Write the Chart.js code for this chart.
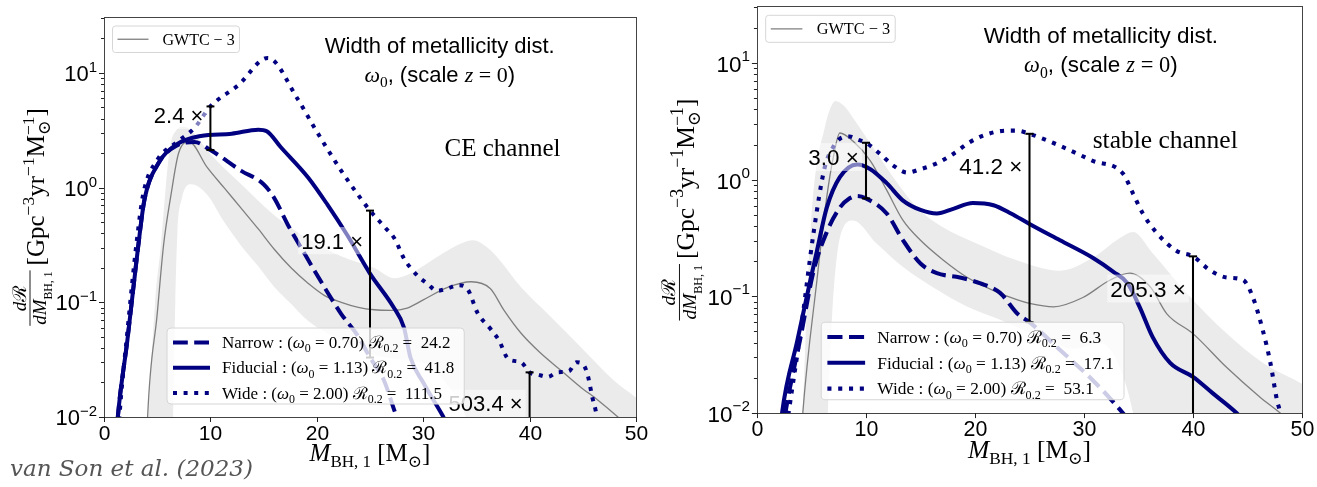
<!DOCTYPE html>
<html>
<head>
<meta charset="utf-8">
<title>Primary BH mass distribution vs. width of the metallicity distribution</title>
<script src="https://cdn.jsdelivr.net/npm/chart.js"></script>
<style>
  html, body { margin: 0; padding: 0; background: #fff; }
  #wrap { position: relative; width: 1317px; height: 487px; overflow: hidden; background: #fff; }
  #ce { position: absolute; left: 0; top: 0; width: 650px; height: 487px; }
  #st { position: absolute; left: 650px; top: 0; width: 667px; height: 487px; }
  #cite { position: absolute; left: 10px; top: 455px; font: italic 23px "DejaVu Serif", serif; color: #555; white-space: nowrap; }
</style>
</head>
<body>
<div id="wrap">
  <canvas id="ce" width="650" height="487"></canvas>
  <canvas id="st" width="667" height="487"></canvas>
  <div id="cite">van Son et al. (2023)</div>
</div>
<script>
// ---------------- axis ticks ----------------
const xTicks = [0, 10, 20, 30, 40, 50];
const yTickValues = [0.01, 0.1, 1, 10];
const yTickExponents = ['\u22122', '\u22121', '0', '1'];
const yMax = 30.7;

// ---------------- legend entries ----------------
const variantNames = ['Narrow', 'Fiducial', 'Wide'];
const omega0 = ['0.70', '1.13', '2.00'];
const ceRate02 = ['24.2', '41.8', '111.5'];
const stRate02 = ['6.3', '17.1', '53.1'];

// ---------------- CE channel: dR/dM [Gpc^-3 yr^-1 Msun^-1] ----------------
const ceFiducialM = [1.0, 1.3, 2.2, 3.2, 3.8, 5.1, 6.9, 9.1, 12.0, 14.5, 15.3, 16.6, 19.2, 21.0, 22.9, 25.0, 27.2, 28.2, 28.8, 30.0, 31.9, 32.5];
const ceFiducialR = [0.0040, 0.010, 0.047, 0.30, 0.78, 1.62, 2.40, 2.82, 2.95, 3.2, 3.1, 2.26, 1.22, 0.71, 0.38, 0.178, 0.091, 0.060, 0.033, 0.020, 0.010, 0.0079];

const ceNarrowM = [1.0, 1.3, 2.2, 3.2, 3.8, 5.1, 6.9, 8.5, 10, 12.9, 15, 16, 17.3, 18.8, 20.7, 22.3, 23.8, 25, 26.3, 27.4, 28];
const ceNarrowR = [0.0040, 0.010, 0.047, 0.30, 0.78, 1.62, 2.34, 2.50, 2.125, 1.40, 1.07, 0.81, 0.47, 0.27, 0.136, 0.079, 0.052, 0.033, 0.021, 0.0107, 0.0079];

const ceWideM = [1.2, 1.45, 2.2, 3.1, 3.7, 5.0, 6.9, 8.5, 10, 12.6, 15.4, 18.2, 19.7, 22.3, 24.1, 25, 26.5, 27.3, 28.2, 28.8, 29.6, 30.4, 31.3, 32.3, 33.3, 34.2, 35.1, 36.3, 37.1, 38, 39.2, 40, 40.8, 41.7, 42.6, 43.7, 44.4, 45.1, 45.5, 45.9, 46.2, 46.5];
const ceWideR = [0.0040, 0.010, 0.056, 0.355, 0.89, 1.74, 2.51, 3.31, 5.1, 7.78, 13.5, 5.92, 3.42, 1.40, 0.81, 0.63, 0.44, 0.36, 0.24, 0.20, 0.166, 0.145, 0.126, 0.132, 0.141, 0.129, 0.081, 0.059, 0.047, 0.032, 0.030, 0.0245, 0.0234, 0.0224, 0.0245, 0.0251, 0.030, 0.0282, 0.0224, 0.0148, 0.0115, 0.0079];

const ceGwtcM = [4.0, 4.1, 5.0, 5.6, 6.3, 7.0, 8.0, 9.7, 11.3, 12.9, 14.5, 16, 17.6, 19.2, 20.7, 22.3, 23.9, 25.4, 27, 28.5, 30, 32.3, 34.5, 36.3, 37.6, 39.2, 41, 42.9, 44.8, 46.4, 48.3, 49];
const ceGwtcR = [0.0050, 0.010, 0.079, 0.316, 0.867, 1.98, 2.51, 1.50, 0.993, 0.659, 0.436, 0.290, 0.199, 0.146, 0.115, 0.100, 0.0904, 0.0861, 0.0851, 0.0891, 0.105, 0.135, 0.151, 0.132, 0.0851, 0.0537, 0.0363, 0.0257, 0.0182, 0.0141, 0.010, 0.0087];

const ceGwtcHiM = [4.0, 4.2, 4.8, 5.35, 5.8, 6.2, 6.8, 7.5, 8.5, 9.7, 12.9, 16, 19.2, 22.3, 25.4, 27.3, 28.8, 30.4, 31.9, 33.5, 34.7, 36, 37, 39.2, 41.7, 44.8, 47.9, 50, 51];
const ceGwtcHiR = [0.0032, 0.010, 0.10, 0.316, 1.0, 2.24, 3.16, 3.39, 2.95, 2.11, 1.07, 0.574, 0.356, 0.252, 0.199, 0.162, 0.178, 0.219, 0.269, 0.324, 0.347, 0.302, 0.245, 0.135, 0.0794, 0.0407, 0.0209, 0.0148, 0.0126];

const ceGwtcLoM = [4.0, 6.3, 6.5, 6.7, 6.9, 7.3, 8.2, 9.7, 11.3, 12.9, 14.5, 16, 17.6, 19.2, 22, 25, 28, 30.5, 32.5, 34, 35, 52];
const ceGwtcLoR = [0.0001, 0.001, 0.010, 0.10, 0.40, 0.79, 1.07, 0.867, 0.50, 0.31, 0.206, 0.136, 0.0966, 0.0687, 0.0479, 0.0355, 0.0316, 0.0282, 0.0178, 0.010, 0.0032, 0.0001];

// Wide/Narrow ratios marked at fixed masses
const ceNoteM = [10, 25, 40];
const ceNoteRatio = [2.4, 19.1, 503.4];
const ceNoteWide = [5.1, 0.63, 0.0245];

// ---------------- stable channel ----------------
const stFiducialM = [2.1, 2.3, 3.7, 4.9, 5.5, 6.4, 7.6, 9.2, 10.4, 11.9, 13.4, 15, 16.5, 18, 19.8, 21.7, 23.3, 25, 27.8, 30.8, 32.7, 34, 35.1, 36.3, 37.9, 40, 41.8, 44, 44.5];
const stFiducialR = [0.0063, 0.010, 0.0417, 0.138, 0.245, 0.575, 1.05, 1.35, 1.23, 0.933, 0.661, 0.550, 0.513, 0.562, 0.631, 0.603, 0.513, 0.417, 0.302, 0.214, 0.162, 0.129, 0.0813, 0.0447, 0.0269, 0.0204, 0.0148, 0.010, 0.0089];

const stNarrowM = [2.3, 2.6, 4.0, 5.2, 6.4, 7.6, 8.5, 9.2, 10, 11.9, 13.4, 15, 16.5, 18.6, 20.5, 22.3, 23.9, 25, 27.8, 30.8, 33.3, 34];
const stNarrowR = [0.0063, 0.010, 0.0447, 0.166, 0.355, 0.575, 0.692, 0.724, 0.69, 0.513, 0.302, 0.191, 0.158, 0.145, 0.129, 0.107, 0.0708, 0.060, 0.0347, 0.0191, 0.0107, 0.0089];

const stWideM = [2.6, 2.9, 4.0, 5.2, 6.2, 7.0, 7.6, 8.5, 9.2, 10, 11.3, 12.5, 13.8, 15, 16.5, 18, 19.5, 21.1, 22.9, 23.8, 25, 27.8, 30.8, 33.6, 34.5, 35.4, 36.7, 38.5, 40, 41.6, 43.1, 44.6, 45.5, 46.4, 47.1, 47.7, 48.0, 48.3];
const stWideR = [0.0063, 0.010, 0.050, 0.355, 1.26, 1.91, 2.24, 2.34, 2.21, 2.07, 1.66, 1.32, 1.15, 1.23, 1.38, 1.66, 2.09, 2.45, 2.63, 2.63, 2.47, 1.95, 1.45, 1.12, 0.759, 0.513, 0.347, 0.245, 0.22, 0.166, 0.145, 0.138, 0.0977, 0.0513, 0.0269, 0.0129, 0.010, 0.0063];

const stGwtcM = [4.0, 4.2, 5.5, 6.4, 7.0, 7.6, 8.8, 10.4, 11.9, 13.4, 15, 17.1, 19.3, 21.7, 23.9, 25, 27.2, 29.9, 32.4, 34.2, 36.1, 37.6, 40, 43.1, 46.1, 48, 49];
const stGwtcR = [0.0050, 0.010, 0.138, 0.708, 1.55, 2.51, 2.14, 1.45, 0.813, 0.447, 0.302, 0.204, 0.145, 0.112, 0.0933, 0.0871, 0.0813, 0.0977, 0.138, 0.158, 0.120, 0.0708, 0.0479, 0.0245, 0.0138, 0.010, 0.0083];

const stGwtcHiM = [3.9, 4.2, 4.6, 5.0, 5.5, 6.1, 6.6, 7.2, 8.0, 8.8, 10.4, 12.5, 14.7, 17.1, 20.2, 23.5, 27.8, 30.8, 33.3, 34.5, 36.3, 39.4, 43.1, 46.4, 49.8, 51];
const stGwtcHiR = [0.0032, 0.010, 0.10, 0.50, 1.41, 2.51, 3.80, 4.73, 4.27, 3.39, 2.04, 1.05, 0.575, 0.389, 0.282, 0.209, 0.166, 0.214, 0.316, 0.355, 0.234, 0.107, 0.0479, 0.0269, 0.0182, 0.0158];

const stGwtcLoM = [4.0, 6.2, 6.5, 6.9, 7.6, 8.8, 11, 13.4, 16.1, 19.3, 22.3, 26, 29, 31.5, 33, 34.5, 35.5, 52];
const stGwtcLoR = [0.0001, 0.001, 0.010, 0.0708, 0.316, 0.447, 0.282, 0.178, 0.120, 0.0813, 0.0631, 0.0447, 0.0355, 0.0398, 0.0282, 0.010, 0.0025, 0.0001];

const stNoteM = [10, 25, 40];
const stNoteRatio = [3.0, 41.2, 205.3];
const stNoteWide = [2.07, 2.47, 0.22];

// ---------------- styling helpers ----------------
const NAVY = '#000080';
const SANS = '"Liberation Sans", Arial, Helvetica, sans-serif';
const SERIF = '"Liberation Serif", "Times New Roman", "DejaVu Serif", serif';

function fontOf(size, family, italic) {
  return (italic ? 'italic ' : '') + size.toFixed(2) + 'px ' + family;
}

// lay out a row of text runs (sub/superscripts, mixed fonts)
function layoutRuns(ctx, runs, size) {
  let w = 0, prevX = 0, prevW = 0;
  const items = [];
  for (const r of runs) {
    const s = size * (r.s || 1);
    ctx.font = fontOf(s, r.f || SERIF, r.i);
    const rw = ctx.measureText(r.t).width;
    if (r.back) {
      items.push({ r, s, x: prevX });
      w += Math.max(0, rw - prevW);
      prevW = Math.max(prevW, rw);
    } else {
      items.push({ r, s, x: w });
      prevX = w; prevW = rw;
      w += rw;
    }
  }
  return { items, width: w };
}

function drawRuns(ctx, runs, x, y, size, align, color) {
  const L = layoutRuns(ctx, runs, size);
  const x0 = align === 'center' ? x - L.width / 2 : (align === 'right' ? x - L.width : x);
  ctx.fillStyle = color || '#000';
  ctx.textAlign = 'left';
  ctx.textBaseline = 'alphabetic';
  for (const it of L.items) {
    ctx.font = fontOf(it.s, it.r.f || SERIF, it.r.i);
    ctx.fillText(it.r.t, x0 + it.x, y + (it.r.dy || 0) * size);
  }
  return L.width;
}

function roundBox(ctx, x, y, w, h, r, fill, stroke) {
  ctx.beginPath();
  ctx.moveTo(x + r, y);
  ctx.lineTo(x + w - r, y); ctx.quadraticCurveTo(x + w, y, x + w, y + r);
  ctx.lineTo(x + w, y + h - r); ctx.quadraticCurveTo(x + w, y + h, x + w - r, y + h);
  ctx.lineTo(x + r, y + h); ctx.quadraticCurveTo(x, y + h, x, y + h - r);
  ctx.lineTo(x, y + r); ctx.quadraticCurveTo(x, y, x + r, y);
  ctx.closePath();
  ctx.fillStyle = fill; ctx.fill();
  ctx.lineWidth = 1; ctx.strokeStyle = stroke; ctx.stroke();
}

function pts(ms, rs) { return ms.map((m, i) => ({ x: m, y: rs[i] })); }

function lineStyles(sc) {
  return [
    { borderColor: NAVY, borderWidth: 4 * sc, borderDash: [14.8 * sc, 6.4 * sc], borderCapStyle: 'butt' },
    { borderColor: NAVY, borderWidth: 4 * sc, borderDash: [], borderCapStyle: 'butt' },
    { borderColor: NAVY, borderWidth: 4 * sc, borderDash: [4 * sc, 6.6 * sc], borderCapStyle: 'butt' }
  ];
}

function yMinorTicks() {
  const out = [];
  for (let d = -2; d <= 1; d++) for (let k = 2; k <= 9; k++) {
    const v = k * Math.pow(10, d);
    if (v < yMax) out.push(v);
  }
  return out;
}

function legendRuns(i, rates) {
  return [
    { t: variantNames[i] + ' : (' },
    { t: '\u03c9', i: true },
    { t: '0', s: 0.7, dy: 0.25 },
    { t: ' = ' + omega0[i] + ') ' },
    { t: '\u211b' },
    { t: '0.2', s: 0.7, dy: 0.25 },
    { t: ' =  ' + rates[i] }
  ];
}

// ---------------- panel decoration (labels, legends, frame) ----------------
function makeDecor(P) {
  return {
    id: 'decor_' + P.key,
    afterDatasetsDraw(chart) {
      const ctx = chart.ctx, ca = chart.chartArea, xs = chart.scales.x, ys = chart.scales.y, sc = P.sc;
      const W = ca.right - ca.left;
      ctx.save();

      // ratio labels next to the bars
      P.noteM.forEach((m, i) => {
        const size = 22 * sc;
        const px = xs.getPixelForValue(m);
        const cy = ys.getPixelForValue(P.noteWide[i]) + P.noteDy[i] * sc;
        const runs = [{ t: P.noteRatio[i].toFixed(1) + ' \u00d7', f: SANS }];
        const L = layoutRuns(ctx, runs, size);
        const right = px - 7 * sc;
        ctx.fillStyle = 'rgba(255,255,255,0.5)';
        ctx.fillRect(right - L.width - 3 * sc, cy - 0.62 * size, L.width + 6 * sc, 1.24 * size);
        drawRuns(ctx, runs, right, cy + 0.36 * size, size, 'right', '#000');
      });

      // GWTC-3 legend
      {
        const bx = ca.left + 8.5 * sc, by = ca.top + 9 * sc, bw = 127 * sc, bh = 26.5 * sc;
        roundBox(ctx, bx, by, bw, bh, 3 * sc, 'rgba(255,255,255,0.8)', '#d6d6d6');
        const ly = by + bh / 2;
        ctx.beginPath(); ctx.setLineDash([]);
        ctx.strokeStyle = '#7f7f7f'; ctx.lineWidth = 1.3;
        ctx.moveTo(bx + 5 * sc, ly); ctx.lineTo(bx + 36 * sc, ly); ctx.stroke();
        drawRuns(ctx, [{ t: 'GWTC \u2212 3' }], bx + 50 * sc, ly + 0.33 * 16 * sc, 16 * sc, 'left', '#000');
      }

      // model legend
      {
        const size = 17 * sc;
        let maxW = 0;
        variantNames.forEach((n, i) => { maxW = Math.max(maxW, layoutRuns(ctx, legendRuns(i, P.rates), size).width); });
        const bx = ca.left + 63 * sc, by = ca.bottom - 89 * sc, bw = 55 * sc + maxW + 10 * sc, bh = 76 * sc;
        roundBox(ctx, bx, by, bw, bh, 4 * sc, 'rgba(255,255,255,0.8)', '#d6d6d6');
        const styles = lineStyles(sc);
        variantNames.forEach((name, i) => {
          const ry = by + 14.5 * sc + i * 25.3 * sc;
          const st = styles[i];
          ctx.beginPath();
          ctx.setLineDash(st.borderDash);
          ctx.lineCap = 'butt';
          ctx.strokeStyle = st.borderColor; ctx.lineWidth = st.borderWidth;
          ctx.moveTo(bx + 6 * sc, ry); ctx.lineTo(bx + 43 * sc, ry); ctx.stroke();
          ctx.setLineDash([]);
          drawRuns(ctx, legendRuns(i, P.rates), bx + 55 * sc, ry + 0.33 * size, size, 'left', '#000');
        });
      }

      // panel titles
      {
        const cx = ca.left + 0.631 * W;
        const s1 = 22 * sc;
        drawRuns(ctx, [{ t: 'Width of metallicity dist.', f: SANS }], cx, ca.top + 28 * sc + 0.36 * s1, s1, 'center', '#000');
        const row2 = [
          { t: '\u03c9', i: true },
          { t: '0', s: 0.7, dy: 0.25 },
          { t: ', (scale ', f: SANS },
          { t: 'z', i: true },
          { t: ' = 0' },
          { t: ')', f: SANS }
        ];
        drawRuns(ctx, row2, cx, ca.top + 57 * sc + 0.36 * s1, s1, 'center', '#000');
        const s2 = 25 * sc;
        drawRuns(ctx, [{ t: P.channel }], ca.left + 0.749 * W, ca.top + 131 * sc + 0.33 * s2, s2, 'center', '#000');
      }

      // frame
      ctx.setLineDash([]);
      ctx.strokeStyle = '#444'; ctx.lineWidth = 1;
      ctx.strokeRect(Math.round(ca.left) + 0.5, Math.round(ca.top) + 0.5, Math.round(ca.right - ca.left), Math.round(ca.bottom - ca.top));

      // x ticks and labels
      ctx.strokeStyle = '#222'; ctx.lineWidth = 1;
      xTicks.forEach(v => {
        const px = Math.round(xs.getPixelForValue(v)) + 0.5;
        ctx.beginPath(); ctx.moveTo(px, ca.bottom); ctx.lineTo(px, ca.bottom + 5 * sc); ctx.stroke();
        const s = 21 * sc;
        drawRuns(ctx, [{ t: String(v), f: SANS }], px, ca.bottom + 15 * sc + 0.358 * s, s, 'center', '#000');
      });

      // y ticks and labels
      yMinorTicks().forEach(v => {
        const py = Math.round(ys.getPixelForValue(v)) + 0.5;
        ctx.beginPath(); ctx.moveTo(ca.left - 3 * sc, py); ctx.lineTo(ca.left, py); ctx.stroke();
      });
      yTickValues.forEach((v, i) => {
        const py = Math.round(ys.getPixelForValue(v)) + 0.5;
        ctx.beginPath(); ctx.moveTo(ca.left - 5 * sc, py); ctx.lineTo(ca.left, py); ctx.stroke();
        const s = 22 * sc;
        drawRuns(ctx, [{ t: '10', f: SANS }, { t: yTickExponents[i], f: SANS, s: 0.68, dy: -0.45 }],
          ca.left - 7 * sc, py + 0.36 * s, s, 'right', '#000');
      });

      // x-axis title
      {
        const s = 25 * sc;
        drawRuns(ctx, [
          { t: 'M', i: true },
          { t: 'BH, 1', s: 0.68, dy: 0.25 },
          { t: ' [M' },
          { t: '\u2299', s: 0.68, dy: 0.25 },
          { t: ']' }
        ], (ca.left + ca.right) / 2, ca.bottom + 44 * sc, s, 'center', '#000');
      }

      // y-axis title (rotated): dR/dM_BH,1 [Gpc^-3 yr^-1 Msun^-1]
      {
        const fs = 19 * sc, bs = 25 * sc;
        const num = [{ t: 'd', i: true }, { t: '\u211b' }];
        const den = [{ t: 'd', i: true }, { t: 'M', i: true }, { t: 'BH, 1', s: 0.62, dy: 0.3 }];
        const br = [
          { t: '[' }, { t: 'Gpc' }, { t: '\u22123', s: 0.7, dy: -0.42 },
          { t: 'yr' }, { t: '\u22121', s: 0.7, dy: -0.42 },
          { t: 'M' }, { t: '\u2299', s: 0.7, dy: 0.25 }, { t: '\u22121', s: 0.7, dy: -0.42, back: true },
          { t: ']' }
        ];
        const nL = layoutRuns(ctx, num, fs), dL = layoutRuns(ctx, den, fs), bL = layoutRuns(ctx, br, bs);
        const fw = Math.max(nL.width, dL.width) + 2 * sc;
        const gap = 5 * sc;
        const total = fw + gap + bL.width;
        const barX = ca.left + P.yTitleX * sc;
        const cy = (ca.top + ca.bottom) / 2;
        ctx.save();
        ctx.translate(barX, cy);
        ctx.rotate(-Math.PI / 2);
        const x0 = -total / 2;
        drawRuns(ctx, num, x0 + fw / 2, -4 * sc, fs, 'center', '#000');
        drawRuns(ctx, den, x0 + fw / 2, 16 * sc, fs, 'center', '#000');
        ctx.beginPath(); ctx.strokeStyle = '#000'; ctx.lineWidth = 0.9 * sc;
        ctx.moveTo(x0, 0); ctx.lineTo(x0 + fw, 0); ctx.stroke();
        drawRuns(ctx, br, x0 + fw + gap, 14 * sc, bs, 'left', '#000');
        ctx.restore();
      }

      ctx.restore();
    }
  };
}

// ---------------- build one panel ----------------
function buildPanel(canvasId, P) {
  const st = lineStyles(P.sc);
  const ds = [];
  ds.push({ label: 'GWTC-3 upper', data: pts(P.hiM, P.hiR), fill: '+1', backgroundColor: '#ebebeb',
    borderColor: 'rgba(0,0,0,0)', borderWidth: 0, order: 6 });
  ds.push({ label: 'GWTC-3 lower', data: pts(P.loM, P.loR), fill: false,
    borderColor: 'rgba(0,0,0,0)', borderWidth: 0, order: 5 });
  ds.push({ label: 'GWTC-3', data: pts(P.gwM, P.gwR), borderColor: '#7f7f7f', borderWidth: 1.3, fill: false, order: 4 });
  ds.push(Object.assign({ label: 'Narrow', data: pts(P.nM, P.nR), fill: false, order: 3 }, st[0]));
  ds.push(Object.assign({ label: 'Fiducial', data: pts(P.fM, P.fR), fill: false, order: 2 }, st[1]));
  ds.push(Object.assign({ label: 'Wide', data: pts(P.wM, P.wR), fill: false, order: 1 }, st[2]));
  P.noteM.forEach((m, i) => {
    ds.push({
      label: 'ratio ' + P.noteRatio[i],
      data: [{ x: m, y: P.noteWide[i] }, { x: m, y: P.noteWide[i] / P.noteRatio[i] }],
      borderColor: '#000', borderWidth: 2 * P.sc, fill: false, order: 0,
      cubicInterpolationMode: 'default', tension: 0,
      pointStyle: 'line', pointRadius: 4 * P.sc, pointBorderWidth: 2 * P.sc,
      pointBorderColor: '#000', pointBackgroundColor: '#000'
    });
  });
  ds.forEach(d => {
    if (d.pointRadius === undefined) d.pointRadius = 0;
    d.pointHoverRadius = 0;
    d.clip = 0;
    if (!d.cubicInterpolationMode) d.cubicInterpolationMode = 'monotone';
  });

  return new Chart(document.getElementById(canvasId), {
    type: 'line',
    data: { datasets: ds },
    options: {
      responsive: false,
      maintainAspectRatio: false,
      animation: false,
      devicePixelRatio: 1,
      events: [],
      layout: { padding: P.pad },
      plugins: { legend: { display: false }, tooltip: { enabled: false } },
      scales: {
        x: { type: 'linear', min: 0, max: 50, display: false },
        y: { type: 'logarithmic', min: 0.01, max: yMax, display: false }
      }
    },
    plugins: [makeDecor(P)]
  });
}

buildPanel('ce', {
  key: 'ce', sc: 1.0, pad: { left: 104, right: 14, top: 17, bottom: 70 },
  channel: 'CE channel', rates: ceRate02, yTitleX: -74,
  fM: ceFiducialM, fR: ceFiducialR, nM: ceNarrowM, nR: ceNarrowR, wM: ceWideM, wR: ceWideR,
  gwM: ceGwtcM, gwR: ceGwtcR, hiM: ceGwtcHiM, hiR: ceGwtcHiR, loM: ceGwtcLoM, loR: ceGwtcLoR,
  noteM: ceNoteM, noteRatio: ceNoteRatio, noteWide: ceNoteWide, noteDy: [9, 30, 31]
});

buildPanel('st', {
  key: 'st', sc: 1.02, pad: { left: 107, right: 15, top: 4, bottom: 74 },
  channel: 'stable channel', rates: stRate02, yTitleX: -76,
  fM: stFiducialM, fR: stFiducialR, nM: stNarrowM, nR: stNarrowR, wM: stWideM, wR: stWideR,
  gwM: stGwtcM, gwR: stGwtcR, hiM: stGwtcHiM, hiR: stGwtcHiR, loM: stGwtcLoM, loR: stGwtcLoR,
  noteM: stNoteM, noteRatio: stNoteRatio, noteWide: stNoteWide, noteDy: [14, 31, 31.5]
});
</script>
</body>
</html>
